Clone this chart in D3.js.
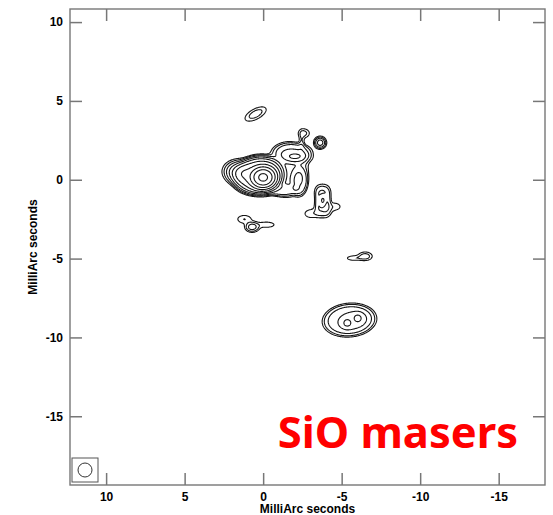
<!DOCTYPE html>
<html>
<head>
<meta charset="utf-8">
<script src="https://cdn.jsdelivr.net/npm/d3@7"></script>
<style>
  body { margin: 0; background: #fff; }
  svg { display: block; }
  .tick text { font-family: "Liberation Sans", Arial, sans-serif; font-weight: bold; font-size: 12px; fill: #000; }
</style>
</head>
<body>
<div id="chart"></div>
<script>
// Axis ticks (milliarcseconds)
const xTicks = [10, 5, 0, -5, -10, -15];
const yTicks = [10, 5, 0, -5, -10, -15];

// Contour levels (relative flux, doubling)
const levels = [1, 2, 4, 8, 16, 32, 64, 128, 256, 512];

// Emission components: position (mas), peak, widths (mas), tilt (deg), edge sharpness
const compX     = [0.3, -1.53, 0.0, 1.3, -1.9, -2.05, -2.29, -1.2, -2.6, -2.45, -3.63, 0.48, -3.78, -3.85, -3.5, -4.1, -3.05, -4.6, 0.7, 1.2, -0.2, -6.5, -5.75, -5.5, -5.7, -5.34, -6.04];
const compY     = [0.3, 0.62, 0.15, 0.4, 1.8, 1.45, -0.08, -0.65, 2.95, 2.25, 2.35, 4.17, -0.75, -1.9, -1.35, -1.35, -2.15, -1.7, -3.0, -2.5, -2.85, -4.85, -4.97, -8.9, -8.93, -9.1, -8.77];
const compPeak  = [40, 3, 600, 35, 5, 12, 6, 4, 2.5, 2.2, 12, 3, 4, 4, 3, 3, 1.8, 1.6, 6, 2, 1.8, 3, 1.8, 6, 6, 8, 8];
const compSx    = [0.97, 0.93, 0.4, 0.5, 0.75, 0.5, 0.35, 0.7, 0.25, 0.12, 0.19, 0.5, 0.28, 0.3, 0.14, 0.14, 0.35, 0.3, 0.25, 0.35, 0.45, 0.3, 0.35, 1.12, 0.65, 0.2, 0.2];
const compSy    = [0.72, 1.19, 0.34, 0.35, 0.35, 0.22, 0.6, 0.25, 0.2, 0.45, 0.19, 0.22, 0.28, 0.3, 0.42, 0.42, 0.22, 0.2, 0.18, 0.2, 0.15, 0.18, 0.12, 0.69, 0.38, 0.2, 0.2];
const compAngle = [-10, 0, 0, 10, 0, 0, 0, 0, 0, 0, 0, 152, 0, 0, 0, 0, 0, 0, 0, 0, 0, 0, 0, -5, -10, 0, 0];
const compPower = [2.5, 3, 1, 1, 2, 1, 2, 2, 1, 1, 1, 1, 1, 1, 1, 1, 1, 1, 1, 1, 1, 1, 1, 3, 2, 1, 1];

const W = 553, H = 515;
const margin = { left: 70, right: 545, top: 9, bottom: 485 };
const xDomain = [12.3, -17.95], yDomain = [10.83, -19.36];

const svg = d3.select('#chart').append('svg')
    .attr('width', W)
    .attr('height', H);

const x = d3.scaleLinear().domain(xDomain).range([margin.left, margin.right]);
const y = d3.scaleLinear().domain(yDomain).range([margin.top, margin.bottom]);

// Build the brightness grid from the components
const step = 0.04;
const x0 = -18, y0 = -19.4;
const nx = Math.ceil(30.4 / step), ny = Math.ceil(30.4 / step);
const values = new Float64Array(nx * ny);
compX.forEach((cx, k) => {
    const a = compAngle[k] * Math.PI / 180, c = Math.cos(a), s = Math.sin(a);
    const sx = compSx[k], sy = compSy[k], amp = compPeak[k], p = compPower[k];
    const reach = 6 * Math.max(sx, sy);
    const i0 = Math.max(0, Math.floor((cx - reach - x0) / step)), i1 = Math.min(nx - 1, Math.ceil((cx + reach - x0) / step));
    const j0 = Math.max(0, Math.floor((compY[k] - reach - y0) / step)), j1 = Math.min(ny - 1, Math.ceil((compY[k] + reach - y0) / step));
    for (let j = j0; j <= j1; j++) {
        const dy = y0 + j * step - compY[k];
        for (let i = i0; i <= i1; i++) {
            const dx = x0 + i * step - cx;
            const u = c * dx + s * dy, v = -s * dx + c * dy;
            const q = (u * u / (sx * sx) + v * v / (sy * sy)) / 2;
            values[j * nx + i] += amp * Math.exp(-Math.pow(q, p));
        }
    }
});

const contours = d3.contours().size([nx, ny]).thresholds(levels)(values);

const path = d3.geoPath(d3.geoTransform({
    point: function(gx, gy) {
        this.stream.point(x(x0 + (gx - 0.5) * step), y(y0 + (gy - 0.5) * step));
    }
}));

svg.append('defs').append('clipPath').attr('id', 'plot')
    .append('rect')
    .attr('x', margin.left).attr('y', margin.top)
    .attr('width', margin.right - margin.left).attr('height', margin.bottom - margin.top);

svg.append('g')
    .attr('clip-path', 'url(#plot)')
    .selectAll('path')
    .data(contours)
    .enter()
    .append('path')
    .attr('d', path)
    .attr('fill', 'none')
    .attr('stroke', '#151515')
    .attr('stroke-width', 1.1);

// Frame
svg.append('rect')
    .attr('x', margin.left).attr('y', margin.top)
    .attr('width', margin.right - margin.left).attr('height', margin.bottom - margin.top)
    .attr('fill', 'none')
    .attr('stroke', '#777')
    .attr('stroke-width', 1.4);

// Inward ticks on all four sides
function styleAxis(g) {
    g.select('.domain').remove();
    g.selectAll('.tick line').attr('stroke', '#777').attr('stroke-width', 1.5);
}
const label = d => String(d);
svg.append('g')
    .attr('transform', `translate(0,${margin.bottom})`)
    .call(d3.axisBottom(x).tickValues(xTicks).tickSize(-12).tickPadding(7).tickFormat(label))
    .call(styleAxis);
svg.append('g')
    .attr('transform', `translate(0,${margin.top})`)
    .call(d3.axisTop(x).tickValues(xTicks).tickSize(-12).tickFormat(''))
    .call(styleAxis);
svg.append('g')
    .attr('transform', `translate(${margin.left},0)`)
    .call(d3.axisLeft(y).tickValues(yTicks).tickSize(-12).tickPadding(7).tickFormat(label))
    .call(styleAxis);
svg.append('g')
    .attr('transform', `translate(${margin.right},0)`)
    .call(d3.axisRight(y).tickValues(yTicks).tickSize(-12).tickFormat(''))
    .call(styleAxis);

// Axis titles
svg.append('text')
    .attr('x', (margin.left + margin.right) / 2)
    .attr('y', 513)
    .attr('text-anchor', 'middle')
    .style('font-family', '"Liberation Sans", Arial, sans-serif')
    .style('font-weight', 'bold')
    .style('font-size', '12px')
    .text('MilliArc seconds');
svg.append('text')
    .attr('transform', `translate(37,${(margin.top + margin.bottom) / 2}) rotate(-90)`)
    .attr('text-anchor', 'middle')
    .style('font-family', '"Liberation Sans", Arial, sans-serif')
    .style('font-weight', 'bold')
    .style('font-size', '12px')
    .text('MilliArc seconds');

// Beam
svg.append('rect')
    .attr('x', 72).attr('y', 458)
    .attr('width', 26).attr('height', 24)
    .attr('fill', 'none')
    .attr('stroke', '#555')
    .attr('stroke-width', 1);
svg.append('circle')
    .attr('cx', 85).attr('cy', 470).attr('r', 7)
    .attr('fill', 'none')
    .attr('stroke', '#333')
    .attr('stroke-width', 1);

// Label
svg.append('text')
    .attr('x', 518)
    .attr('y', 448)
    .attr('text-anchor', 'end')
    .style('font-family', '"Noto Sans", sans-serif')
    .style('font-weight', 'bold')
    .style('font-size', '43.5px')
    .attr('fill', '#ff0000')
    .text('SiO masers');
</script>
</body>
</html>
